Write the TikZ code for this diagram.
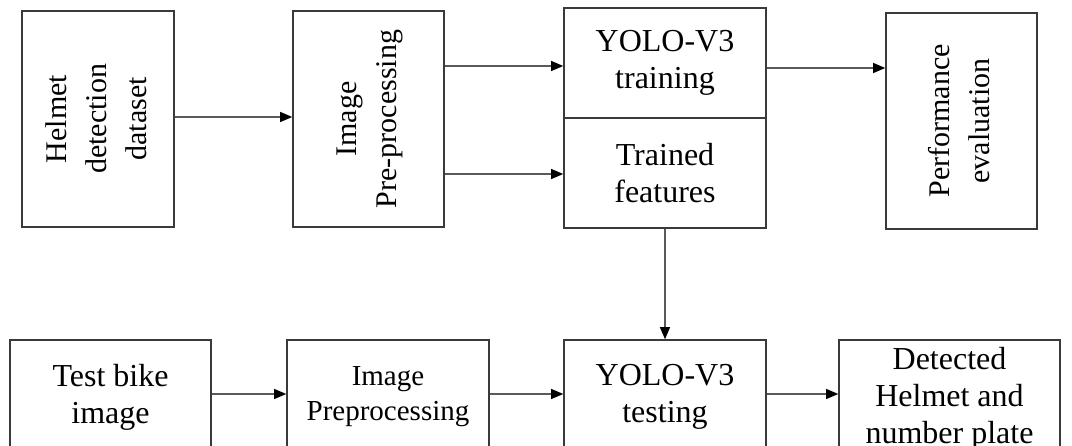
\documentclass[tikz,border=0pt]{standalone}
\usepackage{fontspec}
\setmainfont{Liberation Serif}
\usepackage{graphicx}
\usetikzlibrary{arrows.meta}
\definecolor{boxc}{HTML}{3A3A3A}
\definecolor{linec}{HTML}{5A5A5A}
\newcommand{\rotfont}{\fontsize{30}{40}\selectfont}
\begin{document}
\begin{tikzpicture}[x=1pt,y=-1pt,
  box/.style={draw=boxc, line width=1.6pt, inner sep=0pt, align=center,
    font=\fontsize{32}{37}\selectfont},
  conn/.style={draw=linec, line width=1.1pt, -{Triangle[length=12pt,width=10pt,color=black]}},
]
\useasboundingbox (0,0) rectangle (1072,446);
\clip (0,0) rectangle (1072,446);
% top row
\node[box, minimum width=152pt, minimum height=216pt] (b1) at (98,119)
  {\rotatebox{90}{\rotfont\begin{tabular}{@{}c@{}}Helmet\\detection\\dataset\end{tabular}}};
\node[box, minimum width=151pt, minimum height=216pt] (b2) at (368.5,119)
  {\rotatebox{90}{\rotfont\begin{tabular}{@{}c@{}}Image\\Pre-processing\end{tabular}}};
\node[box, minimum width=202pt, minimum height=110pt] (b3t) at (665,63)
  {YOLO-V3\\training};
\node[box, minimum width=202pt, minimum height=110pt] (b3b) at (665,173)
  {Trained\\features};
\node[box, minimum width=151pt, minimum height=216pt] (b4) at (961.5,121)
  {\rotatebox{90}{\rotfont\begin{tabular}{@{}c@{}}Performance\\evaluation\end{tabular}}};
% bottom row
\node[box, minimum width=201pt, minimum height=114pt] (b5) at (110.5,397)
  {Test bike\\image};
\node[box, minimum width=202pt, minimum height=114pt, font=\fontsize{29}{35}\selectfont] (b6) at (388,397)
  {Image\\Preprocessing};
\node[box, minimum width=202pt, minimum height=114pt] (b7) at (665,397)
  {YOLO-V3\\testing};
\node[box, minimum width=221pt, minimum height=118pt] (b8) at (949.5,399)
  {Detected\\Helmet and\\number plate};
% connectors
\draw[conn] ([yshift=2pt]b1.east) -- ([yshift=2pt]b2.west);
\draw[conn] ([yshift=-3pt]b2.east |- b3t.west) -- ([yshift=-3pt]b3t.west);
\draw[conn] ([yshift=-1pt]b2.east |- b3b.west) -- ([yshift=-1pt]b3b.west);
\draw[conn] ([yshift=-5pt]b3t.east) -- ([yshift=-5pt]b3t.east -| b4.west);
\draw[conn] (b3b.south) -- (b7.north);
\draw[conn] ([yshift=3pt]b5.east) -- ([yshift=3pt]b6.west);
\draw[conn] ([yshift=3pt]b6.east) -- ([yshift=3pt]b7.west);
\draw[conn] ([yshift=3pt]b7.east) -- ([yshift=3pt]b7.east -| b8.west);
\end{tikzpicture}
\end{document}
